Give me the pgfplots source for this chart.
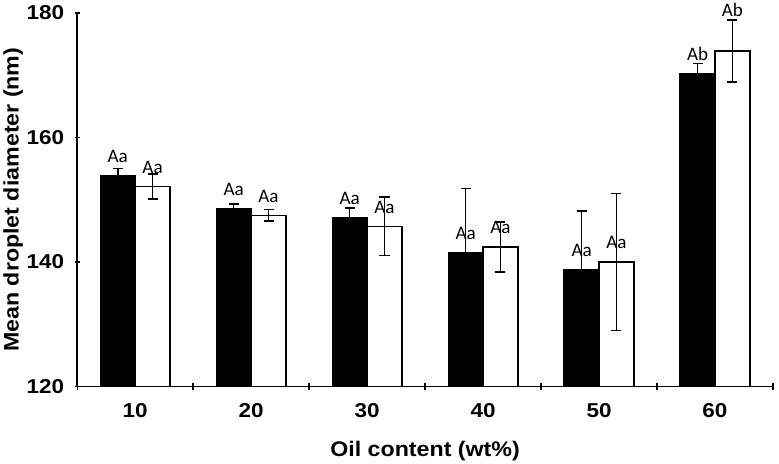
\documentclass[border=0pt]{standalone}
\usepackage{fontspec}
\setmainfont{Liberation Sans}
\newfontfamily\tickfont{Liberation Sans}[FakeStretch=1.12]
\newfontfamily\labfont{Liberation Sans}[FakeStretch=1.1]
\newfontfamily\lblfont{Carlito}
\usepackage{pgfplots}
\usepackage{pgfplotstable}
\pgfplotsset{compat=1.18}

% x: category index (10..60 wt%), y: mean, e: error, dy: label offset (pt)
\pgfplotstableread{
x y e lab dy
0 153.8 1.2 Aa 9
1 148.5 0.8 Aa 9
2 147.1 1.6 Aa 9
3 141.5 10.3 Aa 9
4 138.7 9.5 Aa 9
5 170.3 1.6 Ab 9
}\blackdata
\pgfplotstableread{
x y e lab dy
0 152.1 2.0 Aa 9
1 147.5 0.9 Aa 9
2 145.7 4.7 Aa 9
3 142.4 4.0 Aa 9
4 140.0 11.0 Aa 9
5 173.9 5.0 Ab 30
}\whitedata

\begin{document}
\begin{tikzpicture}
\begin{axis}[
  ybar=0pt,
  bar width=0.3,
  width=693pt, height=372pt, scale only axis,
  xmin=-0.5, xmax=5.5, ymin=120, ymax=180,
  ytick={120,140,160,180},
  xtick={0,...,5},
  xticklabels={10,20,30,40,50,60},
  minor xtick={-0.5,0.5,...,5.5},
  major x tick style={draw=none},
  tick align=outside,
  major tick length=5pt, minor tick length=7pt,
  tick style={line width=1.3pt, black},
  axis lines=left,
  axis line style={-, line width=1.8pt},
  ticklabel style={font=\tickfont\bfseries\fontsize{20}{23}\selectfont},
  yticklabel style={xshift=-7pt},
  xticklabel style={yshift=-11pt},
  /pgf/number format/assume math mode=true,
  label style={font=\labfont\bfseries\fontsize{21}{25}\selectfont},
  xlabel={Oil content (wt\%)},
  ylabel={Mean droplet diameter (nm)},
  xlabel style={at={(axis description cs:0.5,-0.172)}, anchor=center},
  ylabel style={at={(axis description cs:-0.092,0.5)}, anchor=center, rotate=0},
  nodes near coords,
  point meta=explicit symbolic,
  visualization depends on={\thisrow{dy} \as \labdy},
  every node near coord/.append style={font=\lblfont\fontsize{19}{22}\selectfont, yshift=\labdy pt, black},
  error bars/error bar style={line width=1.5pt, black},
  error bars/error mark options={rotate=90, mark size=5pt, line width=1.5pt, black},
]
\addplot[fill=black, draw=black, line width=1.5pt,
  error bars/.cd, y dir=both, y explicit]
  table[x=x, y=y, y error=e, meta=lab] {\blackdata};
\addplot[fill=white, draw=black, line width=1.5pt,
  error bars/.cd, y dir=both, y explicit]
  table[x=x, y=y, y error=e, meta=lab] {\whitedata};
\end{axis}
\path (current axis.east) ++(6pt,0);
\end{tikzpicture}
\end{document}
